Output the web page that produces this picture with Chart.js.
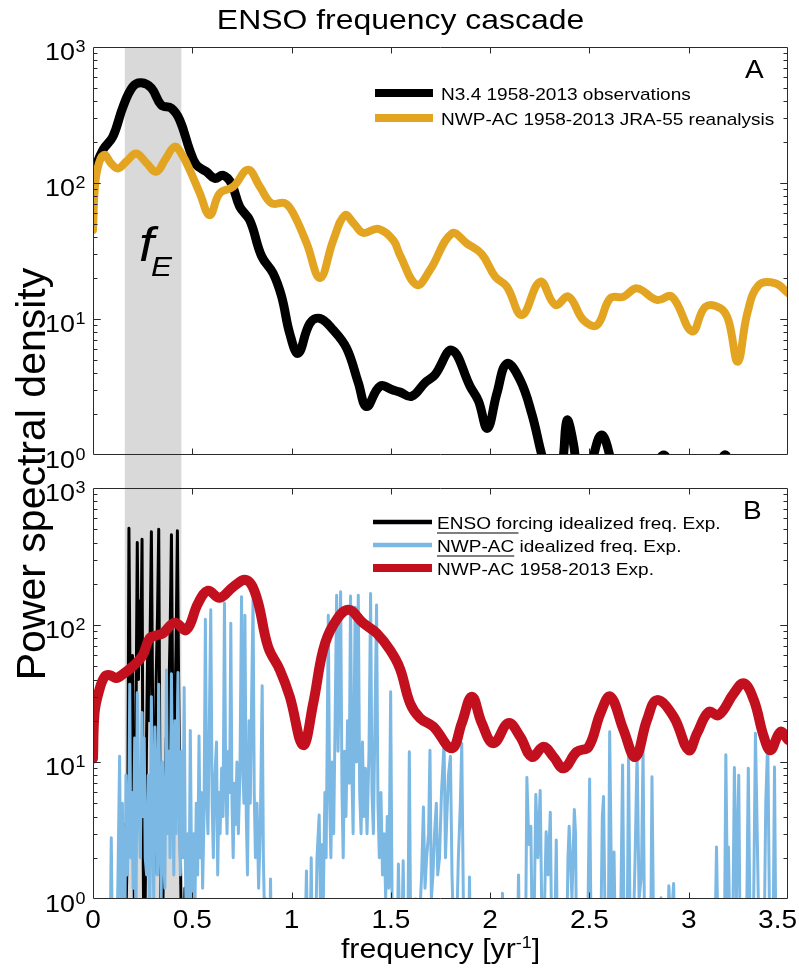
<!DOCTYPE html>
<html>
<head>
<meta charset="utf-8">
<title>ENSO frequency cascade</title>
<script src="https://cdn.jsdelivr.net/npm/chart.js@4.4.1/dist/chart.umd.min.js"></script>
<style>
	body { margin: 0; background: #fff; }
	#wrap { position: relative; width: 799px; height: 971px; }
	#wrap canvas { position: absolute; left: 0; top: 0; }
</style>
</head>
<body>
<div id="wrap">
	<canvas id="panelA" width="799" height="971"></canvas>
	<canvas id="panelB" width="799" height="971"></canvas>
</div>
<script>
// ---- data (frequency in 1/yr, power spectral density) ----

// panel A: N3.4 observations
var obsFreq = [0, 0.05, 0.1, 0.151, 0.2, 0.243, 0.294, 0.344, 0.395, 0.437, 0.487, 0.52, 0.571, 0.613, 0.655, 0.697, 0.739, 0.79, 0.849, 0.907, 0.95, 0.991, 1.033, 1.092, 1.142, 1.21, 1.277, 1.336, 1.378, 1.445, 1.512, 1.546, 1.605, 1.672, 1.723, 1.807, 1.899, 1.941, 1.986, 2.034, 2.084, 2.151, 2.21, 2.26, 2.31, 2.36, 2.387, 2.42, 2.45, 2.5, 2.56, 2.61, 2.65, 2.75, 2.82, 2.874, 2.92, 3.0, 3.1, 3.15, 3.185, 3.22, 3.3, 3.4, 3.5];
var obsPsd = [118, 175, 219, 363, 510, 546, 500, 374, 354, 290, 175, 136, 121, 108, 114, 99, 67, 53, 29, 21.7, 14.6, 7.8, 5.6, 9.3, 10.1, 8.3, 6.1, 3.4, 2.27, 3.2, 3.0, 2.9, 2.7, 3.4, 3.9, 5.9, 3.2, 2.5, 1.57, 2.84, 4.7, 3.56, 2.0, 1.0, 0.55, 0.8, 1.8, 1.2, 0.6, 0.8, 1.4, 0.9, 0.5, 0.4, 0.7, 1.0, 0.7, 0.4, 0.5, 0.8, 1.0, 0.7, 0.4, 0.5, 0.4];

// panel A: NWP-AC JRA-55 reanalysis
var jraFreq = [0, 0.01, 0.03, 0.058, 0.09, 0.126, 0.17, 0.218, 0.27, 0.319, 0.365, 0.412, 0.45, 0.487, 0.538, 0.588, 0.638, 0.706, 0.781, 0.84, 0.899, 0.966, 1.008, 1.076, 1.143, 1.21, 1.269, 1.315, 1.361, 1.437, 1.512, 1.546, 1.63, 1.697, 1.807, 1.882, 1.958, 2.025, 2.084, 2.16, 2.252, 2.328, 2.395, 2.47, 2.538, 2.605, 2.672, 2.74, 2.84, 2.916, 3.017, 3.084, 3.16, 3.2, 3.247, 3.295, 3.353, 3.437, 3.5];
var jraPsd = [45, 95, 140, 161, 140, 128, 145, 165, 140, 121, 150, 185, 160, 125, 84, 58, 84, 94, 125, 94, 71, 71, 60, 36, 20, 38, 58, 50, 43, 46, 38, 29.5, 17.8, 22.9, 42.6, 36, 30, 20.5, 17.3, 10.7, 18.8, 12.7, 14.6, 9.8, 9.0, 14.2, 14.6, 16.8, 13.8, 14.6, 8.1, 12.3, 12.0, 9.8, 4.85, 11, 17.8, 18.3, 15.5];

// panel B: NWP-AC 1958-2013 experiment
var expFreq = [0, 0.008, 0.033, 0.059, 0.084, 0.118, 0.134, 0.201, 0.25, 0.285, 0.319, 0.352, 0.412, 0.47, 0.529, 0.579, 0.638, 0.706, 0.773, 0.823, 0.882, 0.941, 0.991, 1.058, 1.109, 1.159, 1.21, 1.285, 1.361, 1.429, 1.496, 1.546, 1.597, 1.647, 1.714, 1.807, 1.857, 1.908, 1.958, 2.017, 2.092, 2.151, 2.21, 2.269, 2.319, 2.37, 2.437, 2.496, 2.555, 2.605, 2.672, 2.731, 2.79, 2.84, 2.924, 3.0, 3.042, 3.101, 3.151, 3.227, 3.277, 3.328, 3.378, 3.412, 3.462, 3.5];
var expPsd = [10.6, 23, 34, 42, 43, 41, 42, 50, 60, 80, 84, 87, 104, 92, 144, 178, 158, 190, 213, 161, 69, 47, 30, 13.3, 26.8, 65.6, 100, 129, 103, 87, 65.6, 48, 26.8, 20.9, 18.1, 12.6, 19.2, 30, 19.2, 13.7, 19.2, 15.3, 10.9, 12.9, 10.9, 9.0, 11.9, 12.9, 22.6, 30, 17.1, 10.9, 20.3, 28.3, 21.4, 12.2, 16.2, 23.2, 22.0, 31.7, 37.5, 28.3, 15.3, 12.2, 16.6, 14.5];

// panel B: ENSO forcing idealized frequency experiment (spikes)
var ensoFreq = [0.150, 0.156, 0.162, 0.170, 0.176, 0.181, 0.187, 0.193, 0.199, 0.205, 0.211, 0.217, 0.223, 0.229, 0.235, 0.241, 0.247, 0.252, 0.257, 0.263, 0.269, 0.275, 0.282, 0.288, 0.294, 0.300, 0.306, 0.312, 0.318, 0.325, 0.331, 0.337, 0.342, 0.348, 0.355, 0.362, 0.369, 0.376, 0.382, 0.389, 0.395, 0.401, 0.407, 0.413, 0.419, 0.425, 0.431, 0.437, 0.443, 0.450, 0.457, 0.463, 0.470, 0.475, 0.480];
var ensoPsd = [0.3, 3.5, 0.4, 1.5, 8, 508, 30, 4, 60, 2, 0.5, 25, 400, 40, 150, 60, 422, 3, 0.3, 1, 12, 60, 20, 90, 480, 30, 1.5, 6, 40, 120, 500, 8, 0.5, 0.3, 2, 6, 15, 5, 30, 100, 455, 30, 3, 25, 80, 488, 40, 5, 1, 0.5, 0.4, 1.2, 0.3, 1.8, 0.3];

// panel B: NWP-AC idealized frequency experiment (spikes)
var acFreq = [0.085, 0.092, 0.099, 0.118, 0.126, 0.134, 0.142, 0.148, 0.153, 0.160, 0.166, 0.172, 0.180, 0.185, 0.190, 0.196, 0.202, 0.210, 0.216, 0.223, 0.230, 0.238, 0.247, 0.252, 0.258, 0.263, 0.270, 0.278, 0.285, 0.294, 0.300, 0.306, 0.312, 0.318, 0.325, 0.331, 0.337, 0.343, 0.350, 0.356, 0.362, 0.370, 0.376, 0.382, 0.388, 0.395, 0.401, 0.407, 0.413, 0.419, 0.428, 0.434, 0.440, 0.446, 0.452, 0.459, 0.465, 0.471, 0.478, 0.484, 0.490, 0.496, 0.502, 0.508, 0.514, 0.520, 0.527, 0.534, 0.540, 0.546, 0.552, 0.559, 0.566, 0.572, 0.579, 0.586, 0.593, 0.600, 0.606, 0.614, 0.622, 0.628, 0.634, 0.640, 0.648, 0.655, 0.662, 0.668, 0.675, 0.682, 0.688, 0.694, 0.700, 0.706, 0.712, 0.718, 0.725, 0.732, 0.740, 0.748, 0.754, 0.760, 0.765, 0.772, 0.778, 0.786, 0.792, 0.799, 0.806, 0.812, 0.818, 0.826, 0.834, 0.842, 0.852, 0.858, 0.866, 0.874, 0.882, 0.888, 0.894, 0.900,
	1.065, 1.075, 1.082, 1.093, 1.099, 1.105, 1.120, 1.128, 1.139, 1.146, 1.152, 1.160, 1.168, 1.174, 1.185, 1.192, 1.198, 1.205, 1.212, 1.220, 1.227, 1.234, 1.240, 1.247, 1.254, 1.260, 1.267, 1.274, 1.282, 1.290, 1.297, 1.304, 1.310, 1.320, 1.327, 1.336, 1.343, 1.350, 1.357, 1.364, 1.372, 1.380, 1.390, 1.398, 1.405, 1.412, 1.420, 1.428, 1.435, 1.442, 1.450, 1.458, 1.466, 1.474, 1.482, 1.490, 1.499, 1.506, 1.515, 1.530, 1.538, 1.545, 1.555, 1.562, 1.570, 1.585, 1.593, 1.600, 1.615, 1.625, 1.640, 1.655, 1.664, 1.672, 1.680, 1.690, 1.697, 1.704, 1.712, 1.720, 1.729, 1.736, 1.745, 1.755, 1.768, 1.775, 1.782, 1.790, 1.800, 1.808, 1.815, 1.830, 1.840, 1.850, 1.857, 1.865, 1.873, 1.890, 1.896, 1.902,
	2.055, 2.062, 2.069, 2.135, 2.143, 2.150, 2.178, 2.185, 2.195, 2.205, 2.212, 2.220, 2.230, 2.240, 2.252, 2.260, 2.270, 2.282, 2.292, 2.303, 2.310, 2.325, 2.333, 2.340, 2.385, 2.392, 2.398, 2.412, 2.424, 2.430, 2.436, 2.490, 2.501, 2.510, 2.555, 2.565, 2.571, 2.580, 2.595, 2.602, 2.612, 2.624, 2.632, 2.655, 2.667, 2.675, 2.690, 2.697, 2.705, 2.720, 2.730, 2.740, 2.750, 2.762, 2.770, 2.778, 2.808, 2.815, 2.825, 2.855, 2.861, 2.867, 2.893, 2.900, 2.910, 2.924, 2.932,
	3.130, 3.140, 3.150, 3.180, 3.187, 3.195, 3.200, 3.208, 3.222, 3.230, 3.240, 3.252, 3.260, 3.290, 3.300, 3.310, 3.325, 3.336, 3.345, 3.355, 3.380, 3.388, 3.398, 3.408, 3.425, 3.432, 3.440];
var acPsd = [0.3, 2.8, 0.3, 0.3, 1.5, 11, 0.4, 5, 0.5, 0.5, 8, 1.5, 3, 37, 2, 6, 1.2, 15, 0.5, 32, 6, 2, 23, 4, 15, 2, 1.5, 8, 0.5, 30, 3, 1, 18, 5, 1.5, 37, 4, 1, 10, 2, 1.2, 47, 3, 12, 2, 44, 6, 1.5, 20, 3, 45, 5, 1.5, 12, 2, 35, 2, 0.4, 3, 1, 17, 2, 0.5, 3, 1, 5, 1.5, 15.5, 2, 6, 1.2, 4, 110, 6, 3, 20, 129, 5, 2, 8, 14, 1.5, 6, 3, 9, 4, 145, 8, 3, 12, 6, 103, 5, 2, 7, 3.5, 10, 3, 8, 161, 10, 5, 118, 4, 1.5, 20, 5, 30, 154, 6, 2, 5, 1.2, 3, 36, 2, 0.5, 1, 0.3, 0.3, 1.4, 0.3,
	0.3, 1.6, 0.3, 0.4, 2.0, 0.3, 0.4, 2, 4.1, 0.8, 2.5, 1, 6, 2, 118, 5, 2, 10, 3, 25, 165, 12, 40, 175, 6, 2, 12, 4, 20, 7, 163, 8, 3, 135, 10, 165, 6, 3, 14, 4, 9, 3, 12, 170, 6, 3, 20, 140, 5, 2, 6, 1.5, 3, 1, 4, 1.2, 32.6, 1, 0.3, 0.3, 1.8, 0.5, 0.5, 1.9, 0.3, 0.4, 11.9, 0.5, 0.4, 1, 0.5, 1.5, 4.7, 1.2, 2, 3, 12.2, 1, 1.5, 3, 5, 1.5, 2, 6, 13.7, 2, 4, 8, 11, 1.5, 0.6, 0.5, 2, 5, 13.7, 1, 0.3, 0.3, 1.45, 0.3,
	0.3, 1.1, 0.3, 0.3, 1.5, 0.3, 0.4, 7.7, 2.5, 3.4, 0.5, 0.5, 5.8, 2, 6.2, 0.8, 0.5, 3.1, 1.5, 4.3, 0.5, 0.5, 2.7, 0.3, 0.4, 2, 3.4, 1, 4.5, 3, 0.3, 0.4, 7.5, 0.3, 0.3, 4, 5.6, 0.5, 0.5, 16.6, 1, 2.2, 0.3, 0.4, 9.5, 0.5, 0.5, 11.3, 0.6, 0.5, 2, 11.6, 1, 1.5, 12.2, 0.5, 0.4, 7.8, 0.3, 0.3, 1.02, 0.3, 0.5, 1.25, 0.6, 1.3, 0.3,
	0.3, 2.4, 0.3, 0.5, 11.3, 1, 2.4, 0.5, 0.6, 9.1, 1, 8.0, 0.3, 0.4, 9.0, 0.5, 0.5, 16.2, 3, 0.4, 0.5, 5, 14.5, 0.5, 0.5, 9.2, 0.3];

// shaded ENSO band f_E
var bandFreq = [0.16, 0.445];

// axes
var xTicks = [0.5, 1, 1.5, 2, 2.5, 3];
var xTickLabels = ['0', '0.5', '1', '1.5', '2', '2.5', '3', '3.5'];
var xLabelValues = [0, 0.5, 1, 1.5, 2, 2.5, 3, 3.5];
var yDecades = [1, 10, 100, 1000];
var yDecadeExp = ['0', '1', '2', '3'];

// ---- drawing helpers ----
var FONT = '"Liberation Sans", Arial, Helvetica, sans-serif';
var SX = 1.12; // the figure's lettering is a little wide
var BLACK = '#000000', GOLD = '#E3A521', RED = '#C3101E', BLUE = '#7CB8E4', BAND = '#D9D9D9';

function pairs(fx, fy) {
	return fx.map(function(f, i){ return { x: f, y: fy[i] }; });
}

function text(ctx, s, x, y, size, align, italic) {
	ctx.save();
	ctx.font = (italic ? 'italic ' : '') + size + 'px ' + FONT;
	ctx.fillStyle = '#000';
	ctx.textAlign = align || 'left';
	ctx.textBaseline = 'alphabetic';
	ctx.translate(x, y);
	ctx.scale(SX, 1);
	ctx.fillText(s, 0, 0);
	ctx.restore();
}

function textWidth(ctx, s, size) {
	ctx.save();
	ctx.font = size + 'px ' + FONT;
	var w = ctx.measureText(s).width * SX;
	ctx.restore();
	return w;
}

function drawBand(chart, top, bottom) {
	var ctx = chart.ctx, xs = chart.scales.x;
	var x0 = xs.getPixelForValue(bandFreq[0]), x1 = xs.getPixelForValue(bandFreq[1]);
	ctx.save();
	ctx.fillStyle = BAND;
	ctx.fillRect(x0, top, x1 - x0, bottom - top);
	ctx.restore();
}

function drawFrame(chart) {
	var ctx = chart.ctx, a = chart.chartArea, xs = chart.scales.x, ys = chart.scales.y;
	var L = Math.round(a.left) + 0.5, R = Math.round(a.right) - 0.5;
	var T = Math.round(a.top) + 0.5, B = Math.round(a.bottom) - 0.5;
	ctx.save();
	ctx.strokeStyle = '#2a2a2a';
	ctx.lineWidth = 1;
	ctx.beginPath();
	ctx.rect(L, T, R - L, B - T);
	xTicks.forEach(function(t){
		var px = Math.round(xs.getPixelForValue(t)) + 0.5;
		ctx.moveTo(px, T); ctx.lineTo(px, T + 6);
		ctx.moveTo(px, B); ctx.lineTo(px, B - 6);
	});
	for (var d = 1; d < 1000; d *= 10) {
		for (var m = 1; m <= 10; m++) {
			var v = d * m;
			if (v <= 1 || v >= 1000) continue;
			var py = Math.round(ys.getPixelForValue(v)) + 0.5;
			var len = (m === 1 || m === 10) ? 7 : 4;
			ctx.moveTo(L, py); ctx.lineTo(L + len, py);
			ctx.moveTo(R, py); ctx.lineTo(R - len, py);
		}
	}
	ctx.stroke();
	ctx.restore();

	// y tick labels 10^n
	yDecades.forEach(function(v, i){
		var py = ys.getPixelForValue(v);
		text(ctx, '10', 75, py + 13, 24, 'right');
		text(ctx, yDecadeExp[i], 75.5, py + 5, 16, 'left');
	});
}

function drawLegend(ctx, rows, x0, x1, tx) {
	rows.forEach(function(r){
		ctx.save();
		ctx.strokeStyle = r.color;
		ctx.lineWidth = r.width;
		ctx.beginPath();
		ctx.moveTo(x0, r.y); ctx.lineTo(x1, r.y);
		ctx.stroke();
		ctx.restore();
		text(ctx, r.label, tx, r.y + 6.5, 17, 'left');
		if (r.under) {
			var w = textWidth(ctx, r.under, 17);
			ctx.save();
			ctx.fillStyle = '#000';
			ctx.fillRect(tx, r.y + 10.5, w, 1);
			ctx.restore();
		}
	});
}

var lineDefaults = { point: { radius: 0 }, line: { borderJoinStyle: 'round', borderCapStyle: 'round', fill: false } };

function scalesFor() {
	return {
		x: { type: 'linear', min: 0, max: 3.5, display: false },
		y: { type: 'logarithmic', min: 1, max: 1000, display: false }
	};
}

// ---- panel A ----
var chartA = new Chart(document.getElementById('panelA'), {
	type: 'line',
	data: {
		datasets: [{
			label: 'NWP-AC 1958-2013 JRA-55 reanalysis',
			data: pairs(jraFreq, jraPsd),
			borderColor: GOLD, borderWidth: 8, tension: 0.4, clip: 0, order: 1
		}, {
			label: 'N3.4 1958-2013 observations',
			data: pairs(obsFreq, obsPsd),
			borderColor: BLACK, borderWidth: 9, tension: 0.4, clip: 0, order: 2
		}]
	},
	options: {
		responsive: false, animation: false, events: [],
		layout: { padding: { left: 93, right: 11, top: 47, bottom: 516 } },
		elements: lineDefaults,
		scales: scalesFor(),
		plugins: { legend: { display: false }, tooltip: { enabled: false } }
	},
	plugins: [{
		id: 'panelAExtras',
		beforeDatasetsDraw: function(chart){
			drawBand(chart, chart.chartArea.top, chart.chartArea.bottom);
		},
		afterDraw: function(chart){
			var ctx = chart.ctx, a = chart.chartArea;
			drawFrame(chart);
			text(ctx, 'ENSO frequency cascade', (a.left + a.right) / 2 - 40, 28.5, 28.5, 'center');
			text(ctx, 'A', 745, 78, 25, 'left');
			text(ctx, 'f', 139, 261, 48, 'left', true);
			text(ctx, 'E', 151, 276, 28, 'left', true);
			drawLegend(ctx, [
				{ label: 'N3.4 1958-2013 observations', color: BLACK, width: 8, y: 93 },
				{ label: 'NWP-AC 1958-2013 JRA-55 reanalysis', color: GOLD, width: 8, y: 118 }
			], 375, 433, 441);
			// y axis title, spanning both panels
			ctx.save();
			ctx.translate(34, 474);
			ctx.rotate(-Math.PI / 2);
			ctx.font = '41px ' + FONT;
			ctx.fillStyle = '#000';
			ctx.textAlign = 'center';
			ctx.textBaseline = 'middle';
			ctx.fillText('Power spectral density', 0, 0);
			ctx.restore();
		}
	}]
});

// ---- panel B ----
var chartB = new Chart(document.getElementById('panelB'), {
	type: 'line',
	data: {
		datasets: [{
			label: 'NWP-AC 1958-2013 Exp.',
			data: pairs(expFreq, expPsd),
			borderColor: RED, borderWidth: 10, tension: 0.4, clip: 0, order: 1
		}, {
			label: 'NWP-AC idealized freq. Exp.',
			data: pairs(acFreq, acPsd),
			borderColor: BLUE, borderWidth: 3, tension: 0, clip: 0, order: 2
		}, {
			label: 'ENSO forcing idealized freq. Exp.',
			data: pairs(ensoFreq, ensoPsd),
			borderColor: BLACK, borderWidth: 3, tension: 0, clip: 0, order: 3
		}]
	},
	options: {
		responsive: false, animation: false, events: [],
		layout: { padding: { left: 93, right: 11, top: 488, bottom: 72 } },
		elements: lineDefaults,
		scales: scalesFor(),
		plugins: { legend: { display: false }, tooltip: { enabled: false } }
	},
	plugins: [{
		id: 'panelBExtras',
		beforeDatasetsDraw: function(chart){
			drawBand(chart, chartA.chartArea.bottom, chart.chartArea.bottom);
		},
		afterDraw: function(chart){
			var ctx = chart.ctx, a = chart.chartArea, xs = chart.scales.x;
			drawFrame(chart);
			xLabelValues.forEach(function(v, i){
				var px = xs.getPixelForValue(v);
				var half = textWidth(ctx, xTickLabels[i], 25) / 2;
				px = Math.min(px, chart.width - 2 - half); // keep the last label inside the figure
				text(ctx, xTickLabels[i], px, a.bottom + 29, 25, 'center');
			});
			// x axis title with superscript
			var main = 'frequency [yr', sup = '-1', tail = ']';
			var w1 = textWidth(ctx, main, 27), w2 = textWidth(ctx, sup, 16), w3 = textWidth(ctx, tail, 27);
			var x0 = (a.left + a.right) / 2 - (w1 + w2 + w3) / 2;
			text(ctx, main, x0, 958, 27, 'left');
			text(ctx, sup, x0 + w1, 948, 16, 'left');
			text(ctx, tail, x0 + w1 + w2, 958, 27, 'left');
			text(ctx, 'B', 743, 519, 25, 'left');
			drawLegend(ctx, [
				{ label: 'ENSO forcing idealized freq. Exp.', under: 'ENSO for', color: BLACK, width: 4.5, y: 522 },
				{ label: 'NWP-AC idealized freq. Exp.', under: 'NWP-AC', color: BLUE, width: 4.5, y: 545 },
				{ label: 'NWP-AC 1958-2013 Exp.', color: RED, width: 8, y: 568 }
			], 373, 432, 437);
		}
	}]
});
</script>
</body>
</html>
